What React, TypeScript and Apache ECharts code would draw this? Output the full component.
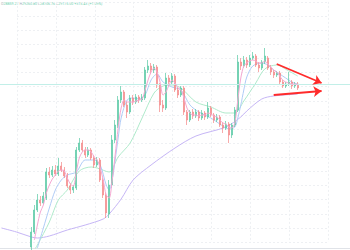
import React, { useEffect, useRef } from "react";
import * as echarts from "echarts";

const CATEGORY_COUNT = 117;
const categories = Array.from({ length: CATEGORY_COUNT }, (_, i) => "t" + i);

// candles from index 10: [open, close, low, high]
const candleStart = 10;
const candles = [
  [3, 18, 0, 23], [18, 40, 16, 45], [40, 50, 38, 56], [50, 47, 44, 54], [47, 54, 45, 58],
  [52, 78, 50, 82], [78, 75, 72, 83], [75, 80, 73, 84], [80, 76, 74, 85], [76, 84, 74, 92],
  [84, 80, 78, 88], [80, 74, 72, 83], [74, 64, 62, 77], [64, 60, 56, 67], [60, 63, 57, 65],
  [62, 100, 60, 103], [100, 107, 98, 112], [107, 100, 98, 110], [100, 95, 92, 103], [95, 100, 93, 103],
  [100, 92, 90, 102], [92, 85, 82, 95], [85, 90, 83, 93], [90, 70, 68, 92], [70, 55, 52, 72],
  [55, 37, 32, 57], [36, 65, 32, 70], [65, 110, 62, 115], [110, 125, 107, 130], [125, 150, 122, 154],
  [150, 158, 147, 164], [158, 145, 143, 160], [145, 138, 132, 148], [138, 152, 136, 155], [152, 148, 145, 155],
  [148, 153, 146, 156], [153, 150, 147, 155], [150, 153, 148, 156], [152, 180, 150, 183], [180, 184, 177, 190],
  [184, 180, 176, 187], [180, 183, 177, 186], [183, 165, 162, 185], [165, 145, 138, 167], [145, 142, 138, 150],
  [142, 172, 140, 177], [172, 168, 164, 175], [168, 174, 166, 177], [174, 160, 158, 176], [160, 155, 152, 163],
  [155, 162, 153, 164], [162, 138, 135, 164], [138, 130, 125, 140], [130, 138, 128, 140], [138, 134, 131, 141],
  [134, 138, 132, 141], [138, 132, 129, 140], [132, 137, 130, 140], [137, 133, 130, 139], [133, 142, 131, 148],
  [142, 135, 133, 144], [135, 130, 127, 137], [130, 133, 128, 136], [133, 125, 123, 135], [125, 122, 117, 128],
  [122, 126, 120, 129], [126, 115, 107, 128], [115, 125, 112, 127], [125, 140, 123, 143], [140, 188, 138, 195],
  [188, 184, 180, 192], [184, 190, 182, 194], [190, 185, 182, 193], [185, 192, 183, 195], [192, 194, 190, 198],
  [194, 185, 183, 196], [185, 182, 178, 188], [182, 188, 180, 190], [188, 194, 186, 202], [192, 182, 180, 194],
  [182, 178, 175, 185], [178, 175, 172, 180], [175, 177, 173, 179], [177, 168, 166, 179], [168, 164, 162, 170],
  [164, 166, 162, 168], [166, 168, 164, 178], [168, 164, 161, 170], [164, 166, 162, 168], [166, 162, 160, 168],
];

// short moving average, from index 11
const pinkStart = 11;
const pinkMA = [
  10, 25, 38, 45, 57, 65, 71, 75, 79, 80, 79, 72, 66, 64, 78, 92, 98, 100, 100, 98,
  93, 90, 82, 70, 55, 52, 70, 95, 122, 142, 150, 148, 148, 148, 149, 150, 151, 160, 170, 178,
  182, 178, 168, 155, 158, 165, 170, 167, 162, 160, 152, 142, 137, 135, 135, 134, 135, 135, 137, 136,
  134, 133, 130, 127, 126, 123, 122, 127, 150, 172, 184, 187, 189, 190, 189, 187, 187, 189, 186, 183,
  180, 178, 174, 170, 168, 167, 166, 166, 165,
];

// [index, value]
const blueMA = [
  [12, 2], [14, 22], [16, 42], [18, 60], [20, 70], [22, 75], [25, 78], [28, 90], [31, 90], [33, 85],
  [35, 65], [36, 60], [37, 70], [38, 90], [39, 112], [40, 132], [42, 150], [44, 152], [46, 151], [48, 155],
  [50, 170], [52, 176], [54, 168], [57, 163], [60, 160], [63, 145], [66, 138], [70, 132], [73, 126], [76, 121],
  [78, 123], [79, 132], [80, 145], [81, 160], [82, 173], [84, 184], [87, 187], [89, 185], [91, 180], [93, 176],
  [95, 172], [97, 168], [99, 166],
];

const greenMA = [
  [11, 0], [12, 5], [16, 28], [19, 50], [22, 60], [26, 79], [30, 83], [32, 82], [36, 78], [39, 93],
  [43, 107], [47, 132], [51, 157], [54, 164], [57, 165], [60, 162], [65, 148], [70, 143], [75, 137], [78, 137],
  [81, 149], [85, 167], [88, 181], [92, 185], [96, 179], [99, 174],
];

const purpleMA = [
  [0, 22], [5, 18], [10, 13], [12, 12], [16, 14], [22, 20], [28, 25], [34, 31], [36, 36], [40, 51],
  [44, 70], [50, 85], [58, 102], [65, 114], [75, 123], [80, 133], [82, 139], [87, 151], [91, 154], [99, 156],
];

const levelLine = 166;
const arrowUpper = [[92, 186], [107, 167]];
const arrowLower = [[91, 155], [107, 159]];

const headerParts = {
  open: "28859.21",
  high: "29260.80",
  low: "28706.76",
  close: "29175.00",
  change: "+315.43 (+1.09%)",
};

export default function App() {
  const ref = useRef<HTMLDivElement>(null);
  useEffect(() => {
    if (!ref.current) return;
    const chart = echarts.init(ref.current, undefined, { renderer: "svg" });
    const candleData: any[] = categories.map(() => "-");
    candles.forEach((c, k) => {
      candleData[candleStart + k] = c;
    });
    const pinkData = pinkMA.map((v, k) => [pinkStart + k, v]);
    const lineStyle = (color: string) => ({ color, width: 1 });
    const gridLine = { show: true, lineStyle: { color: "#eef0f3", width: 1, type: [2, 2] } };
    chart.setOption({
      animation: false,
      backgroundColor: "#ffffff",
      grid: [
        { left: 0, right: 0, top: 0, bottom: 2 },
        { left: 17, top: 1.875, width: 311.2, height: 240.125 },
      ],
      xAxis: [
        {
          type: "category",
          data: categories,
          gridIndex: 0,
          boundaryGap: true,
          axisLine: { show: true, lineStyle: { color: "#e0e3e8", width: 1 } },
          axisTick: { show: false },
          axisLabel: { show: false },
          splitLine: { show: false },
        },
        {
          type: "value",
          gridIndex: 1,
          min: 0,
          max: 8,
          interval: 1,
          axisLine: { show: false },
          axisTick: { show: false },
          axisLabel: { show: false },
          splitLine: gridLine,
        },
      ],
      yAxis: [
        {
          type: "value",
          gridIndex: 0,
          min: 2,
          max: 250,
          axisLine: { show: false },
          axisTick: { show: false },
          axisLabel: { show: false },
          splitLine: { show: false },
        },
        {
          type: "value",
          gridIndex: 1,
          min: 0,
          max: 17,
          interval: 1,
          axisLine: { show: false },
          axisTick: { show: false },
          axisLabel: { show: false },
          splitLine: gridLine,
        },
      ],
      graphic: [
        {
          type: "text",
          left: 1,
          top: 2,
          style: {
            text:
              "{l|O}{v|" + headerParts.open + "} {l|H}{v|" + headerParts.high + "} {l|L}{v|" +
              headerParts.low + "} {l|C}{v|" + headerParts.close + "} {v|" + headerParts.change + "}",
            rich: {
              l: { fontSize: 3.6, fill: "#a8adb4", fontFamily: "Roboto" },
              v: { fontSize: 3.6, fill: "#6fd0b0", fontFamily: "Roboto" },
            },
            fontSize: 3.6,
            fontFamily: "Roboto",
          },
        },
      ],
      series: [
        {
          type: "line",
          name: "MA200",
          xAxisIndex: 0,
          yAxisIndex: 0,
          data: purpleMA,
          showSymbol: false,
          smooth: 0.3,
          lineStyle: lineStyle("#c6b6f6"),
          z: 3,
          markLine: {
            silent: true,
            symbol: "none",
            label: { show: false },
            lineStyle: { color: "#c2efe8", width: 1, type: "solid" },
            data: [{ yAxis: levelLine }],
          },
        },
        {
          type: "line",
          name: "MA99",
          data: greenMA,
          showSymbol: false,
          smooth: 0.3,
          lineStyle: lineStyle("#afeacb"),
          z: 3,
        },
        {
          type: "line",
          name: "MA25",
          data: blueMA,
          showSymbol: false,
          smooth: 0.3,
          lineStyle: lineStyle("#b0ccf6"),
          z: 3,
        },
        {
          type: "candlestick",
          name: "Price",
          data: candleData,
          barWidth: 1.6,
          itemStyle: {
            color: "#5ccaa6",
            color0: "#f48a8a",
            borderColor: "#5ccaa6",
            borderColor0: "#f48a8a",
            borderWidth: 0.8,
            opacity: 0.9,
          },
          z: 4,
          markLine: {
            silent: true,
            symbol: ["none", "arrow"],
            symbolSize: 8,
            label: { show: false },
            lineStyle: { color: "#ff2b2b", width: 1.8, type: "solid" },
            data: [
              [{ coord: arrowUpper[0] }, { coord: arrowUpper[1] }],
              [{ coord: arrowLower[0] }, { coord: arrowLower[1] }],
            ],
          },
        },
        {
          type: "line",
          name: "MA7",
          data: pinkData,
          showSymbol: false,
          smooth: 0.3,
          lineStyle: lineStyle("#f5a8d2"),
          z: 5,
        },
      ],
    });
    return () => chart.dispose();
  }, []);
  return (
    <div
      ref={ref}
      style={{ position: "fixed", left: 0, top: 0, width: 350, height: 250 }}
    />
  );
}
